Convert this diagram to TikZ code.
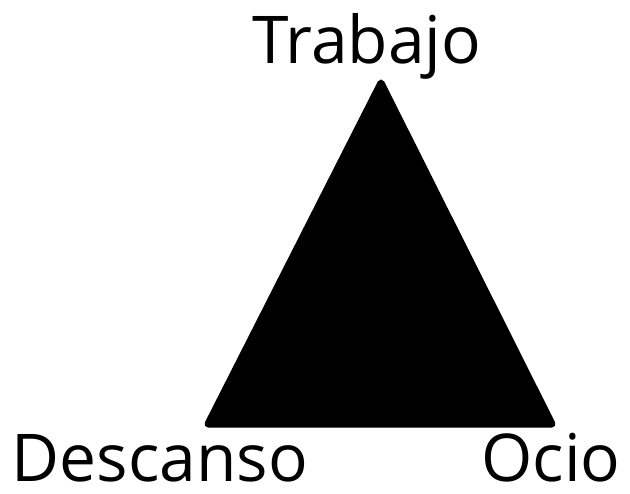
\documentclass[tikz,border=0pt]{standalone}
\usepackage{fontspec}
\setmainfont{Open Sans}
\begin{document}
\begin{tikzpicture}[
  vlabel/.style={font=\fontsize{37.5}{45}\selectfont, anchor=base, inner sep=0pt}]
\useasboundingbox (0,0) rectangle (12.6,9.86);
% Corners of the triangle
\coordinate (top) at (7.62,8.2);
\coordinate (left) at (4.16,1.38);
\coordinate (right) at (11.04,1.38);
% Filled triangle with rounded corners
\filldraw [line width=4pt, line join=round] (top) -- (left) -- (right) -- cycle;
% Labels at the corners
\node [vlabel] (trabajo) at (7.34,8.6) {Trabajo};
\node [vlabel] (descanso) at (3.2,0.24) {Descanso};
\node [vlabel] (ocio) at (11.02,0.24) {Ocio};
\end{tikzpicture}
\end{document}
